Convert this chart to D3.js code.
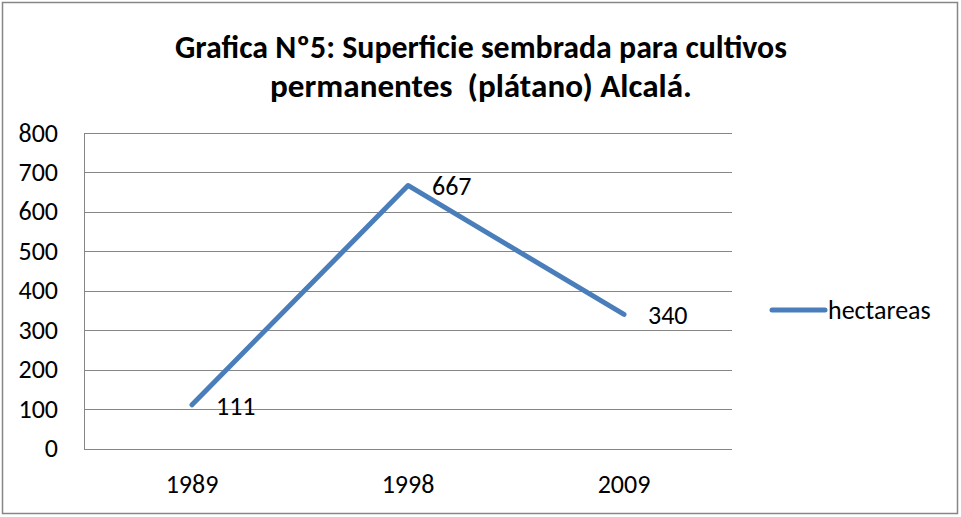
<!DOCTYPE html>
<html><head><meta charset="utf-8">
<script src="https://cdn.jsdelivr.net/npm/d3@7"></script>
<style>body{margin:0;background:#fff}svg{display:block}</style>
</head><body>
<svg id="c" width="961" height="517"></svg>
<script>
const categories = ["1989", "1998", "2009"];
const values = [111, 667, 340];
const yTicks = [0, 100, 200, 300, 400, 500, 600, 700, 800];
const seriesName = "hectareas";
const titleLines = ["Grafica Nº5: Superficie sembrada para cultivos", "permanentes  (plátano) Alcalá."];

const FONT = "Carlito, Calibri, 'Liberation Sans', Arial, sans-serif";
const FS = 26;
const svg = d3.select("#c");
svg.append("rect").attr("x", 2.5).attr("y", 2.5).attr("width", 955).attr("height", 511)
  .attr("fill", "#fff").attr("stroke", "#868686").attr("stroke-width", 1.5);

const m = {left: 84, right: 732, top: 133, bottom: 448.5};
const x = d3.scaleBand().domain(categories).range([m.left, m.right]);
const y = d3.scaleLinear().domain([0, 800]).range([m.bottom, m.top]);

// title
const tw = [612, 422];
titleLines.forEach((t, i) => {
  const el = svg.append("text").attr("x", 481).attr("y", 58 + i * 39)
    .attr("text-anchor", "middle").attr("font-family", FONT).attr("font-weight", "bold")
    .style("white-space", "pre")
    .attr("font-size", 25).attr("fill", "#000").text(t);
  const w = el.node().getComputedTextLength();
  el.attr("font-size", 25 * tw[i] / w);
});

// gridlines
const g = svg.append("g");
g.selectAll("line.grid").data(yTicks).join("line")
  .attr("x1", m.left).attr("x2", m.right)
  .attr("y1", d => Math.round(y(d)) + 0.5).attr("y2", d => Math.round(y(d)) + 0.5)
  .attr("stroke", "#868686").attr("stroke-width", 1);
g.append("line").attr("x1", m.left + 0.5).attr("x2", m.left + 0.5)
  .attr("y1", y(800)).attr("y2", y(0) + 0.5).attr("stroke", "#868686");

// y labels
svg.selectAll("text.yl").data(yTicks).join("text")
  .attr("x", 58).attr("y", d => y(d) + 8.5).attr("text-anchor", "end")
  .attr("font-family", FONT).attr("font-size", FS).attr("fill", "#000").text(d => d);

// x labels
svg.selectAll("text.xl").data(categories).join("text")
  .attr("x", d => x(d) + x.bandwidth() / 2).attr("y", 493).attr("text-anchor", "middle")
  .attr("font-family", FONT).attr("font-size", FS).attr("fill", "#000").text(d => d);

// line
const line = d3.line().x((d, i) => x(categories[i]) + x.bandwidth() / 2).y(d => y(d));
svg.append("path").datum(values).attr("d", line).attr("fill", "none")
  .attr("stroke", "#4a7ebb").attr("stroke-width", 5).attr("stroke-linecap", "round").attr("stroke-linejoin", "round");

// data labels
svg.selectAll("text.dl").data(values).join("text")
  .attr("x", (d, i) => x(categories[i]) + x.bandwidth() / 2 + 24).attr("y", d => y(d) + 10)
  .attr("font-family", FONT).attr("font-size", FS).attr("fill", "#000").text(d => d);

// legend
svg.append("line").attr("x1", 772).attr("x2", 825).attr("y1", 310).attr("y2", 310)
  .attr("stroke", "#4a7ebb").attr("stroke-width", 5).attr("stroke-linecap", "round");
svg.append("text").attr("x", 828).attr("y", 318.5).attr("font-family", FONT).attr("font-size", FS)
  .attr("fill", "#000").text(seriesName);
</script>
</body></html>
